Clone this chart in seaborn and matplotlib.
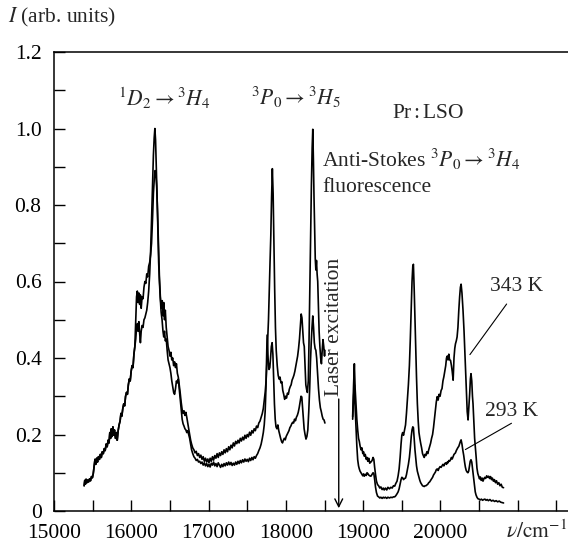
import matplotlib
matplotlib.use("Agg")
import matplotlib.pyplot as plt
import seaborn as sns
from matplotlib.ticker import MultipleLocator, FixedLocator, FixedFormatter

# ---------------- data ----------------
common_pts = [
    (15390, 0.066), (15398, 0.080), (15406, 0.070), (15415, 0.083), (15425, 0.074), (15435, 0.081),
    (15447, 0.076), (15460, 0.084), (15472, 0.079), (15485, 0.090), (15497, 0.087), (15508, 0.098),
    (15520, 0.118), (15530, 0.135), (15540, 0.122), (15552, 0.138), (15563, 0.128), (15575, 0.142),
    (15588, 0.135), (15600, 0.148), (15612, 0.140), (15625, 0.155), (15638, 0.150), (15650, 0.163),
    (15662, 0.158), (15675, 0.175), (15688, 0.168), (15700, 0.185), (15712, 0.178), (15722, 0.205),
    (15732, 0.190), (15742, 0.215), (15752, 0.195), (15762, 0.220), (15772, 0.198), (15782, 0.212),
    (15795, 0.190), (15808, 0.205), (15818, 0.185), (15830, 0.210), (15842, 0.225), (15855, 0.235),
    (15866, 0.255), (15878, 0.248), (15890, 0.268), (15902, 0.280), (15914, 0.275), (15926, 0.300),
    (15938, 0.310), (15950, 0.305), (15962, 0.330), (15974, 0.345), (15986, 0.340), (15998, 0.365),
    (16010, 0.380), (16022, 0.375), (16034, 0.410), (16046, 0.430),
]

stokes_343_pts = [
    (16058, 0.500), (16068, 0.560), (16078, 0.575), (16088, 0.545), (16098, 0.570), (16108, 0.540),
    (16118, 0.565), (16128, 0.530), (16140, 0.560), (16152, 0.555), (16164, 0.585), (16176, 0.600),
    (16188, 0.595), (16200, 0.620), (16212, 0.612), (16225, 0.640), (16238, 0.650), (16250, 0.670),
    (16262, 0.700), (16274, 0.760), (16286, 0.830), (16298, 0.870), (16308, 0.890), (16318, 0.880),
    (16328, 0.850), (16340, 0.780), (16352, 0.690), (16364, 0.610), (16376, 0.560), (16388, 0.530),
    (16400, 0.550), (16410, 0.510), (16420, 0.545), (16430, 0.500), (16440, 0.525), (16452, 0.480),
    (16464, 0.455), (16476, 0.430), (16488, 0.420), (16500, 0.405), (16512, 0.415), (16524, 0.395),
    (16536, 0.400), (16548, 0.380), (16560, 0.390), (16572, 0.375), (16584, 0.385), (16596, 0.360),
    (16608, 0.350), (16620, 0.330), (16632, 0.310), (16645, 0.285), (16658, 0.265), (16670, 0.255),
    (16682, 0.262), (16694, 0.250), (16706, 0.258), (16718, 0.245), (16730, 0.230), (16742, 0.215),
    (16755, 0.200), (16768, 0.185), (16780, 0.175), (16795, 0.165), (16810, 0.160), (16825, 0.152),
    (16840, 0.156), (16855, 0.145), (16870, 0.150), (16885, 0.140), (16900, 0.146), (16915, 0.135),
    (16930, 0.142), (16945, 0.130), (16960, 0.138), (16975, 0.128), (16990, 0.136), (17005, 0.126),
    (17020, 0.138), (17035, 0.130), (17050, 0.142), (17065, 0.133), (17080, 0.145), (17095, 0.138),
    (17110, 0.150), (17125, 0.140), (17140, 0.152), (17155, 0.145), (17170, 0.155), (17185, 0.148),
    (17200, 0.160), (17215, 0.152), (17230, 0.163), (17245, 0.155), (17260, 0.168), (17275, 0.160),
    (17290, 0.172), (17305, 0.165), (17320, 0.178), (17335, 0.170), (17350, 0.182), (17365, 0.176),
    (17380, 0.185), (17395, 0.178), (17410, 0.190), (17425, 0.183), (17440, 0.193), (17455, 0.186),
    (17470, 0.198), (17485, 0.190), (17500, 0.200), (17515, 0.194), (17530, 0.206), (17545, 0.198),
    (17560, 0.210), (17575, 0.204), (17590, 0.215), (17605, 0.210), (17620, 0.222), (17635, 0.218),
    (17650, 0.230), (17665, 0.235), (17680, 0.245), (17695, 0.255), (17708, 0.268), (17720, 0.290),
    (17732, 0.310), (17744, 0.340), (17755, 0.390), (17765, 0.450), (17775, 0.500), (17785, 0.580),
    (17795, 0.650), (17805, 0.720), (17815, 0.820), (17825, 0.895), (17835, 0.830), (17845, 0.700),
    (17855, 0.580), (17865, 0.480), (17875, 0.420), (17888, 0.380), (17900, 0.355), (17912, 0.345),
    (17924, 0.350), (17936, 0.335), (17948, 0.338), (17960, 0.315), (17972, 0.305), (17984, 0.292),
    (17996, 0.300), (18008, 0.295), (18020, 0.308), (18032, 0.305), (18044, 0.318), (18056, 0.325),
    (18068, 0.330), (18080, 0.342), (18092, 0.348), (18104, 0.355), (18116, 0.365), (18128, 0.378),
    (18140, 0.390), (18152, 0.405), (18164, 0.425), (18176, 0.450), (18188, 0.485), (18198, 0.515),
    (18208, 0.505), (18218, 0.470), (18228, 0.440), (18238, 0.430), (18248, 0.380), (18258, 0.330),
    (18268, 0.318), (18278, 0.310), (18290, 0.340), (18300, 0.450), (18310, 0.580), (18320, 0.720),
    (18330, 0.850), (18340, 0.950), (18348, 0.998), (18356, 0.920), (18364, 0.820), (18372, 0.740),
    (18380, 0.660), (18388, 0.630), (18396, 0.655), (18404, 0.620), (18412, 0.600), (18420, 0.540),
    (18430, 0.470), (18440, 0.430), (18450, 0.400), (18460, 0.385), (18470, 0.420), (18480, 0.448),
    (18490, 0.430), (18500, 0.405), (18505, 0.420),
]

stokes_293_pts = [
    (16058, 0.450), (16068, 0.480), (16078, 0.490), (16088, 0.470), (16098, 0.495), (16108, 0.465),
    (16118, 0.440), (16128, 0.470), (16140, 0.485), (16152, 0.480), (16164, 0.500), (16176, 0.505),
    (16188, 0.515), (16200, 0.525), (16212, 0.545), (16225, 0.575), (16238, 0.620), (16250, 0.680),
    (16262, 0.760), (16274, 0.850), (16286, 0.930), (16296, 0.975), (16305, 1.000), (16314, 0.970),
    (16324, 0.900), (16334, 0.820), (16344, 0.730), (16354, 0.650), (16364, 0.600), (16374, 0.560),
    (16386, 0.520), (16398, 0.500), (16410, 0.470), (16420, 0.455), (16430, 0.470), (16440, 0.445),
    (16452, 0.450), (16464, 0.420), (16476, 0.395), (16488, 0.385), (16500, 0.375), (16512, 0.360),
    (16524, 0.340), (16536, 0.325), (16548, 0.310), (16560, 0.305), (16572, 0.320), (16584, 0.340),
    (16596, 0.335), (16608, 0.345), (16620, 0.320), (16632, 0.295), (16645, 0.265), (16658, 0.240),
    (16670, 0.228), (16682, 0.222), (16694, 0.215), (16706, 0.212), (16718, 0.205), (16730, 0.210),
    (16742, 0.200), (16755, 0.190), (16768, 0.175), (16780, 0.160), (16795, 0.150), (16810, 0.142),
    (16825, 0.138), (16840, 0.132), (16855, 0.135), (16870, 0.128), (16885, 0.130), (16900, 0.124),
    (16915, 0.128), (16930, 0.120), (16945, 0.126), (16960, 0.118), (16975, 0.124), (16990, 0.116),
    (17005, 0.122), (17020, 0.115), (17035, 0.125), (17050, 0.120), (17065, 0.128), (17080, 0.118),
    (17095, 0.124), (17110, 0.116), (17125, 0.126), (17140, 0.120), (17155, 0.114), (17170, 0.122),
    (17185, 0.116), (17200, 0.124), (17215, 0.118), (17230, 0.126), (17245, 0.120), (17260, 0.128),
    (17275, 0.121), (17290, 0.127), (17305, 0.119), (17320, 0.125), (17335, 0.120), (17350, 0.128),
    (17365, 0.122), (17380, 0.130), (17395, 0.124), (17410, 0.132), (17425, 0.126), (17440, 0.134),
    (17455, 0.128), (17470, 0.136), (17485, 0.130), (17500, 0.135), (17515, 0.129), (17530, 0.138),
    (17545, 0.132), (17560, 0.140), (17575, 0.134), (17590, 0.142), (17605, 0.138), (17620, 0.145),
    (17635, 0.150), (17650, 0.158), (17665, 0.165), (17680, 0.175), (17695, 0.190), (17708, 0.205),
    (17720, 0.225), (17732, 0.260), (17742, 0.320), (17750, 0.400), (17757, 0.460), (17764, 0.430),
    (17772, 0.390), (17782, 0.370), (17792, 0.375), (17802, 0.400), (17812, 0.430), (17822, 0.440),
    (17832, 0.410), (17842, 0.340), (17852, 0.280), (17862, 0.240), (17872, 0.220), (17884, 0.215),
    (17896, 0.225), (17908, 0.210), (17920, 0.200), (17932, 0.190), (17944, 0.182), (17956, 0.178),
    (17968, 0.185), (17980, 0.190), (17992, 0.186), (18004, 0.195), (18016, 0.200), (18028, 0.205),
    (18040, 0.210), (18052, 0.218), (18064, 0.222), (18076, 0.228), (18088, 0.232), (18100, 0.230),
    (18112, 0.240), (18124, 0.236), (18136, 0.245), (18148, 0.250), (18160, 0.258), (18172, 0.270),
    (18184, 0.285), (18196, 0.300), (18206, 0.298), (18216, 0.270), (18226, 0.240), (18236, 0.215),
    (18248, 0.200), (18260, 0.188), (18272, 0.195), (18284, 0.212), (18296, 0.260), (18308, 0.320),
    (18318, 0.390), (18328, 0.440), (18338, 0.480), (18348, 0.510), (18358, 0.480), (18368, 0.440),
    (18378, 0.425), (18388, 0.420), (18398, 0.400), (18410, 0.360), (18422, 0.320), (18434, 0.290),
    (18446, 0.270), (18458, 0.260), (18470, 0.248), (18482, 0.240), (18494, 0.238), (18505, 0.230),
]

anti_343_pts = [
    (18864, 0.247), (18876, 0.330), (18886, 0.385), (18896, 0.320), (18907, 0.281), (18918, 0.240),
    (18929, 0.212), (18940, 0.190), (18950, 0.182), (18960, 0.170), (18972, 0.160), (18984, 0.165),
    (18995, 0.150), (19005, 0.155), (19015, 0.143), (19027, 0.148), (19040, 0.135), (19050, 0.140),
    (19060, 0.130), (19072, 0.138), (19085, 0.125), (19100, 0.128), (19115, 0.132), (19128, 0.140),
    (19138, 0.135), (19148, 0.115), (19160, 0.095), (19172, 0.078), (19186, 0.069), (19200, 0.066),
    (19215, 0.060), (19229, 0.063), (19245, 0.056), (19260, 0.060), (19272, 0.055), (19288, 0.060),
    (19305, 0.055), (19320, 0.062), (19340, 0.058), (19358, 0.062), (19375, 0.060), (19392, 0.066),
    (19408, 0.065), (19422, 0.072), (19438, 0.078), (19452, 0.092), (19465, 0.110), (19478, 0.140),
    (19490, 0.175), (19500, 0.198), (19510, 0.205), (19522, 0.198), (19535, 0.212), (19548, 0.225),
    (19560, 0.255), (19572, 0.290), (19585, 0.330), (19598, 0.380), (19610, 0.450), (19622, 0.530),
    (19632, 0.600), (19642, 0.640), (19650, 0.645), (19660, 0.580), (19670, 0.500), (19680, 0.430),
    (19690, 0.350), (19701, 0.281), (19712, 0.235), (19722, 0.205), (19733, 0.190), (19744, 0.177),
    (19756, 0.165), (19768, 0.150), (19778, 0.145), (19790, 0.140), (19800, 0.148), (19812, 0.145),
    (19824, 0.155), (19836, 0.150), (19848, 0.160), (19860, 0.168), (19872, 0.177), (19885, 0.190),
    (19898, 0.200), (19910, 0.218), (19922, 0.240), (19935, 0.265), (19946, 0.285), (19958, 0.299),
    (19970, 0.290), (19982, 0.305), (19995, 0.300), (20008, 0.315), (20020, 0.320), (20032, 0.340),
    (20044, 0.351), (20056, 0.365), (20068, 0.380), (20078, 0.400), (20088, 0.405), (20098, 0.395),
    (20108, 0.410), (20118, 0.395), (20130, 0.394), (20142, 0.380), (20152, 0.365), (20164, 0.342),
    (20175, 0.400), (20185, 0.425), (20194, 0.437), (20205, 0.445), (20215, 0.455), (20226, 0.480),
    (20237, 0.524), (20248, 0.560), (20258, 0.585), (20267, 0.593), (20278, 0.570), (20292, 0.524),
    (20305, 0.470), (20315, 0.420), (20325, 0.370), (20336, 0.310), (20346, 0.260), (20357, 0.238),
    (20368, 0.275), (20378, 0.307), (20387, 0.345), (20395, 0.359), (20405, 0.340), (20414, 0.300),
    (20421, 0.281), (20432, 0.230), (20442, 0.190), (20451, 0.169), (20462, 0.140), (20472, 0.112),
    (20483, 0.098), (20494, 0.091), (20505, 0.084), (20516, 0.089), (20527, 0.080), (20540, 0.086),
    (20550, 0.078), (20560, 0.083), (20572, 0.088), (20585, 0.085), (20598, 0.092), (20610, 0.088),
    (20623, 0.091), (20635, 0.085), (20648, 0.090), (20660, 0.082), (20672, 0.086), (20685, 0.078),
    (20698, 0.082), (20712, 0.074), (20725, 0.079), (20740, 0.070), (20755, 0.074), (20770, 0.066),
    (20785, 0.070), (20800, 0.062), (20816, 0.061),
]

anti_293_pts = [
    (18864, 0.240), (18876, 0.300), (18886, 0.330), (18896, 0.270), (18907, 0.220), (18918, 0.170),
    (18929, 0.134), (18940, 0.118), (18950, 0.110), (18960, 0.104), (18972, 0.100), (18984, 0.096),
    (18995, 0.092), (19005, 0.097), (19015, 0.091), (19027, 0.096), (19040, 0.093), (19050, 0.100),
    (19060, 0.098), (19072, 0.094), (19085, 0.092), (19100, 0.091), (19115, 0.096), (19128, 0.100),
    (19138, 0.098), (19150, 0.080), (19160, 0.062), (19172, 0.048), (19186, 0.039), (19200, 0.037),
    (19215, 0.034), (19229, 0.036), (19245, 0.033), (19260, 0.036), (19272, 0.034), (19288, 0.036),
    (19305, 0.033), (19320, 0.036), (19340, 0.034), (19358, 0.036), (19375, 0.035), (19392, 0.037),
    (19408, 0.037), (19422, 0.040), (19438, 0.045), (19452, 0.050), (19465, 0.058), (19478, 0.070),
    (19490, 0.082), (19500, 0.088), (19510, 0.087), (19522, 0.082), (19535, 0.085), (19548, 0.086),
    (19560, 0.095), (19572, 0.108), (19585, 0.122), (19598, 0.140), (19610, 0.165), (19622, 0.195),
    (19632, 0.212), (19642, 0.220), (19650, 0.218), (19660, 0.190), (19670, 0.160), (19680, 0.140),
    (19690, 0.118), (19701, 0.104), (19712, 0.095), (19722, 0.088), (19733, 0.080), (19744, 0.074),
    (19756, 0.070), (19768, 0.066), (19778, 0.065), (19790, 0.064), (19800, 0.066), (19812, 0.066),
    (19824, 0.068), (19836, 0.070), (19848, 0.074), (19860, 0.076), (19872, 0.080), (19885, 0.084),
    (19898, 0.088), (19910, 0.094), (19922, 0.098), (19935, 0.102), (19946, 0.108), (19958, 0.110),
    (19970, 0.106), (19982, 0.112), (19995, 0.116), (20008, 0.114), (20020, 0.118), (20032, 0.122),
    (20044, 0.118), (20056, 0.124), (20068, 0.126), (20078, 0.122), (20088, 0.128), (20098, 0.126),
    (20108, 0.132), (20118, 0.130), (20130, 0.134), (20142, 0.140), (20152, 0.136), (20164, 0.142),
    (20175, 0.148), (20185, 0.150), (20194, 0.152), (20205, 0.158), (20215, 0.162), (20226, 0.166),
    (20237, 0.169), (20248, 0.176), (20258, 0.182), (20267, 0.186), (20278, 0.175), (20290, 0.158),
    (20301, 0.145), (20312, 0.128), (20322, 0.115), (20333, 0.106), (20344, 0.102), (20355, 0.100),
    (20365, 0.104), (20375, 0.118), (20385, 0.130), (20395, 0.134), (20405, 0.128), (20414, 0.112),
    (20422, 0.098), (20430, 0.082), (20440, 0.064), (20450, 0.050), (20460, 0.042), (20472, 0.036),
    (20485, 0.032), (20500, 0.031), (20515, 0.029), (20530, 0.031), (20545, 0.028), (20560, 0.030),
    (20575, 0.031), (20590, 0.028), (20605, 0.030), (20620, 0.027), (20640, 0.030), (20660, 0.026),
    (20680, 0.028), (20700, 0.025), (20720, 0.027), (20740, 0.024), (20760, 0.026), (20780, 0.023),
    (20800, 0.022), (20816, 0.021),
]

x_tick_values = [15000, 16000, 17000, 18000, 19000, 20000, 21000]
x_tick_labels = ["15000", "16000", "17000", "18000", "19000", "20000", ""]
y_tick_values = [0, 0.2, 0.4, 0.6, 0.8, 1.0, 1.2]
y_tick_labels = ["0", "0.2", "0.4", "0.6", "0.8", "1.0", "1.2"]

laser_position = 18684

# ---------------- style ----------------
FS = 15.5
sns.set_style("ticks")
plt.rcParams["font.family"] = ["Liberation Serif", "DejaVu Serif"]
plt.rcParams["mathtext.fontset"] = "stix"
plt.rcParams["font.size"] = FS

fig = plt.figure(figsize=(5.68, 5.44), dpi=100)
ax = fig.add_axes([54 / 568, 33 / 544, 514 / 568, 459 / 544])


def seg(points):
    xs = [p[0] for p in points]
    ys = [p[1] for p in points]
    return xs, ys


curves = [
    common_pts + stokes_343_pts,
    common_pts + stokes_293_pts,
    anti_343_pts,
    anti_293_pts,
]
for pts in curves:
    xs, ys = seg(pts)
    sns.lineplot(x=xs, y=ys, ax=ax, color="black", lw=1.2, sort=False, estimator=None)

ax.set_xlim(15000, 21650)
ax.set_ylim(0, 1.2)
ax.spines["right"].set_visible(False)
for s in ["left", "bottom", "top"]:
    ax.spines[s].set_color("black")
    ax.spines[s].set_linewidth(1.1)

ax.xaxis.set_major_locator(FixedLocator(x_tick_values))
ax.xaxis.set_major_formatter(FixedFormatter(x_tick_labels))
ax.xaxis.set_minor_locator(MultipleLocator(500))
ax.yaxis.set_major_locator(FixedLocator(y_tick_values))
ax.yaxis.set_major_formatter(FixedFormatter(y_tick_labels))
ax.yaxis.set_minor_locator(MultipleLocator(0.1))
ax.tick_params(which="both", direction="in", length=8, width=1, colors="black",
               top=False, right=False, labelsize=FS)
ax.tick_params(axis="x", pad=9.5)
ax.tick_params(axis="y", pad=9)
ax.set_xlabel("")
ax.set_ylabel("")

# ---------------- annotations ----------------
fig.text(8 / 568, 1 - 17 / 544, r"$I$ (arb. units)", ha="left", va="center", fontsize=FS)
fig.text(567 / 568, 1 - 532 / 544, r"$\nu/\mathrm{cm}^{-1}$", ha="right", va="center", fontsize=FS)

ax.text(16420, 1.08, r"$^{1}D_{2}\rightarrow{}^{3}H_{4}$", ha="center", va="center", fontsize=FS)
ax.text(18130, 1.08, r"$^{3}P_{0}\rightarrow{}^{3}H_{5}$", ha="center", va="center", fontsize=FS)
ax.text(19838, 1.04, r"Pr$\,$:$\,$LSO", ha="center", va="center", fontsize=FS)
ax.text(18467, 0.918, r"Anti-Stokes $^{3}P_{0}\rightarrow{}^{3}H_{4}$", ha="left", va="center", fontsize=FS)
ax.text(18467, 0.845, "fluorescence", ha="left", va="center", fontsize=FS)
ax.text(18635, 0.48, "Laser excitation", rotation=90, ha="center", va="center", fontsize=FS)
ax.annotate("", xy=(laser_position, 0.0), xytext=(laser_position, 0.30),
            arrowprops=dict(arrowstyle="->", color="black", lw=1.0, mutation_scale=14))

ax.text(20640, 0.586, "343 K", ha="left", va="center", fontsize=FS)
ax.annotate("", xy=(20360, 0.403), xytext=(20877, 0.547),
            arrowprops=dict(arrowstyle="-", color="black", lw=0.8))
ax.text(20575, 0.26, "293 K", ha="left", va="center", fontsize=FS)
ax.annotate("", xy=(20291, 0.157), xytext=(20950, 0.233),
            arrowprops=dict(arrowstyle="-", color="black", lw=0.8))

fig.savefig("out.png", dpi=100)
